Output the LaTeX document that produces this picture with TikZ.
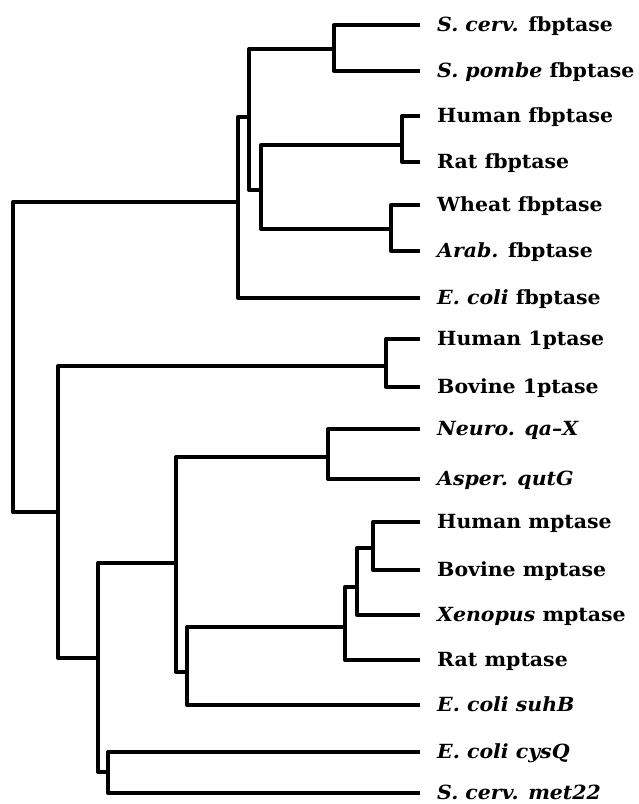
\documentclass[tikz,border=0pt]{standalone}
\usepackage{fontspec}
\setmainfont{DejaVu Serif}[FakeStretch=1.05]
\begin{document}
\begin{tikzpicture}[x=1pt,y=-1pt,
  branch/.style={line width=4pt,line join=round,line cap=butt},
  leaf/.style={anchor=base west,inner sep=0pt}]
\useasboundingbox (0,0) rectangle (639,804);

% leaf tips and their labels (label baseline sits 6pt below the tip)
\foreach \n/\y/\t in {
  l1/25/{\textit{S. cerv.} fbptase},
  l2/71/{\textit{S. pombe} fbptase},
  l3/116/{Human fbptase},
  l4/162/{Rat fbptase},
  l5/205/{Wheat fbptase},
  l6/251/{\textit{Arab.} fbptase},
  l7/298/{\textit{E. coli} fbptase},
  l8/339/{Human 1ptase},
  l9/387/{Bovine 1ptase},
  l10/429/{\textit{Neuro. qa--X}},
  l11/479/{\textit{Asper. qutG}},
  l12/522/{Human mptase},
  l13/570/{Bovine mptase},
  l14/615/{\textit{Xenopus} mptase},
  l15/660/{Rat mptase},
  l16/705/{\textit{E. coli suhB}},
  l17/752/{\textit{E. coli cysQ}},
  l18/793/{\textit{S. cerv. met22}}}{
  \coordinate (\n) at (420,\y);
  \node[leaf] (t\n) at (437,\y+6) {\fontsize{19.5}{22}\selectfont\bfseries\t};
}

% internal branch points
\coordinate (root) at (13,357);
\coordinate (A) at (238,202);
\coordinate (B) at (249,117);
\coordinate (C) at (334,49);
\coordinate (D) at (261,190);
\coordinate (E) at (402,145);
\coordinate (F) at (391,229);
\coordinate (G) at (58,512);
\coordinate (H) at (386,366);
\coordinate (I) at (98,658);
\coordinate (J) at (176,563);
\coordinate (K) at (108,772);
\coordinate (L) at (328,457);
\coordinate (M) at (187,672);
\coordinate (N) at (345,627);
\coordinate (O) at (357,587);
\coordinate (P) at (373,548);

% elbow connectors, parent to child
\foreach \p/\c in {root/A,root/G,
  A/B,A/l7,B/C,B/D,C/l1,C/l2,D/E,D/F,E/l3,E/l4,F/l5,F/l6,
  G/H,G/I,H/l8,H/l9,I/J,I/K,J/L,J/M,L/l10,L/l11,
  M/N,M/l16,N/O,N/l15,O/P,O/l14,P/l12,P/l13,K/l17,K/l18}
  \draw[branch] (\p) |- (\c);
\end{tikzpicture}
\end{document}
